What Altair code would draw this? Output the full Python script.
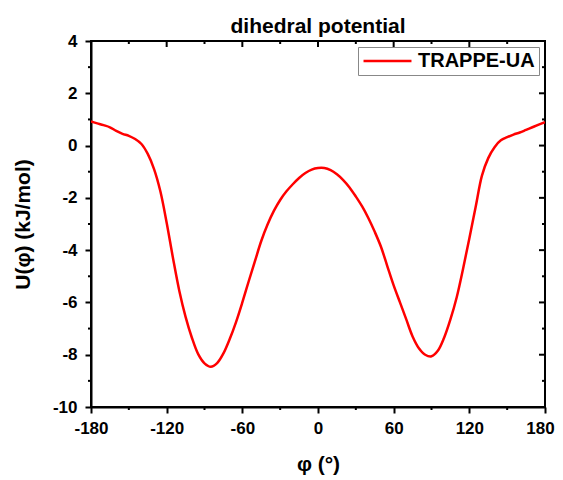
import altair as alt
import pandas as pd

phi = [-180, -175, -170, -165, -160, -155, -150, -145, -140, -135, -130, -125,
       -120, -115, -110, -105, -100, -95, -90, -85, -80, -75, -70, -65, -60,
       -55, -50, -45, -40, -35, -30, -25, -20, -15, -10, -5, 0, 5, 10, 15, 20,
       25, 30, 35, 40, 45, 50, 55, 60, 65, 70, 75, 80, 85, 90, 95, 100, 105,
       110, 115, 120, 125, 130, 135, 140, 145, 150, 155, 160, 165, 170, 175, 180]
U = [0.92, 0.85, 0.78, 0.70, 0.56, 0.45, 0.37, 0.25, 0.06, -0.32, -0.90, -1.75,
     -2.95, -4.30, -5.55, -6.55, -7.35, -7.98, -8.33, -8.46, -8.32, -7.95, -7.40,
     -6.75, -6.00, -5.20, -4.42, -3.65, -3.02, -2.50, -2.08, -1.75, -1.48, -1.24,
     -1.05, -0.92, -0.86, -0.86, -0.94, -1.10, -1.32, -1.60, -1.95, -2.33, -2.78,
     -3.30, -3.88, -4.62, -5.35, -6.00, -6.65, -7.30, -7.75, -8.00, -8.06, -7.85,
     -7.35, -6.65, -5.80, -4.72, -3.55, -2.35, -1.15, -0.48, -0.06, 0.20, 0.32,
     0.42, 0.50, 0.60, 0.70, 0.80, 0.90]

x_major = [-180, -120, -60, 0, 60, 120, 180]
x_minor = [-150, -90, -30, 30, 90, 150]
y_major = [-10, -8, -6, -4, -2, 0, 2, 4]
y_minor = [-9, -7, -5, -3, -1, 1, 3]

series = "TRAPPE-UA"
W, H = 454, 366
FONT = "Liberation Sans"
MAJ, MIN = 6, 3

df = pd.DataFrame({"phi": phi, "U": U, "series": [series] * len(phi)})

xs = alt.Scale(domain=[-180, 180], nice=False, zero=False)
ys = alt.Scale(domain=[-10, 4], nice=False, zero=False)

x_axis = alt.Axis(values=x_major, title="φ (°)", tickSize=MAJ, tickWidth=2,
                  domainWidth=2, domainColor="black", tickColor="black",
                  labelFontSize=17, titleFontSize=21, labelPadding=7,
                  titlePadding=17, grid=False, labelFlush=False,
                  labelExpr="'' + datum.value",
                  labelOffset={"condition": {"test": "datum.value == 180", "value": -5},
                               "value": 0})
y_axis = alt.Axis(values=y_major, title="U(φ) (kJ/mol)", tickSize=MAJ, tickWidth=2,
                  domainWidth=2, domainColor="black", tickColor="black",
                  labelFontSize=17, titleFontSize=21, labelPadding=8,
                  titlePadding=19, grid=False, labelExpr="'' + datum.value")

line = alt.Chart(df).mark_line(strokeWidth=2.5, interpolate="catmull-rom", clip=True).encode(
    x=alt.X("phi:Q", scale=xs, axis=x_axis),
    y=alt.Y("U:Q", scale=ys, axis=y_axis),
    color=alt.Color("series:N", scale=alt.Scale(domain=[series], range=["#ff0000"]),
                    legend=alt.Legend(title=None, orient="top-right", offset=6,
                                      symbolType="stroke", symbolSize=2300,
                                      symbolStrokeWidth=2.5, labelFontSize=20,
                                      labelFont=FONT, labelFontWeight="bold",
                                      labelColor="black",
                                      strokeColor="#888888", padding=4,
                                      clipHeight=20, labelOffset=5)),
)

xmin_df = pd.DataFrame({"t": x_minor})
xmaj_df = pd.DataFrame({"t": x_major})
ymin_df = pd.DataFrame({"t": y_minor})
ymaj_df = pd.DataFrame({"t": y_major})

def xticks(d, y0, y1):
    return alt.Chart(d).mark_rule(strokeWidth=2, color="black").encode(
        x=alt.X("t:Q", scale=xs, axis=x_axis), y=alt.value(y0), y2=alt.value(y1))

def yticks(d, x0, x1):
    return alt.Chart(d).mark_rule(strokeWidth=2, color="black").encode(
        y=alt.Y("t:Q", scale=ys, axis=y_axis), x=alt.value(x0), x2=alt.value(x1))

ticks = [
    xticks(xmin_df, H, H + MIN),
    xticks(xmaj_df, 0, MAJ),
    xticks(xmin_df, 0, MIN),
    yticks(ymin_df, 0, -MIN),
    yticks(ymaj_df, W, W - MAJ),
    yticks(ymin_df, W, W - MIN),
]

chart = alt.layer(line, *ticks).properties(
    width=W, height=H,
    title=alt.TitleParams("dihedral potential", fontSize=21, font=FONT,
                          fontWeight="bold", offset=-5, color="black"),
    autosize=alt.AutoSizeParams(type="none"),
    padding={"left": 83, "top": 33, "right": 10, "bottom": 70},
).configure_view(stroke="black", strokeWidth=2).configure_axis(
    labelFont=FONT, titleFont=FONT, labelFontWeight="bold", titleFontWeight="bold",
    labelColor="black", titleColor="black"
)

chart.save("out.html", embed_options={"renderer": "svg", "actions": False})
